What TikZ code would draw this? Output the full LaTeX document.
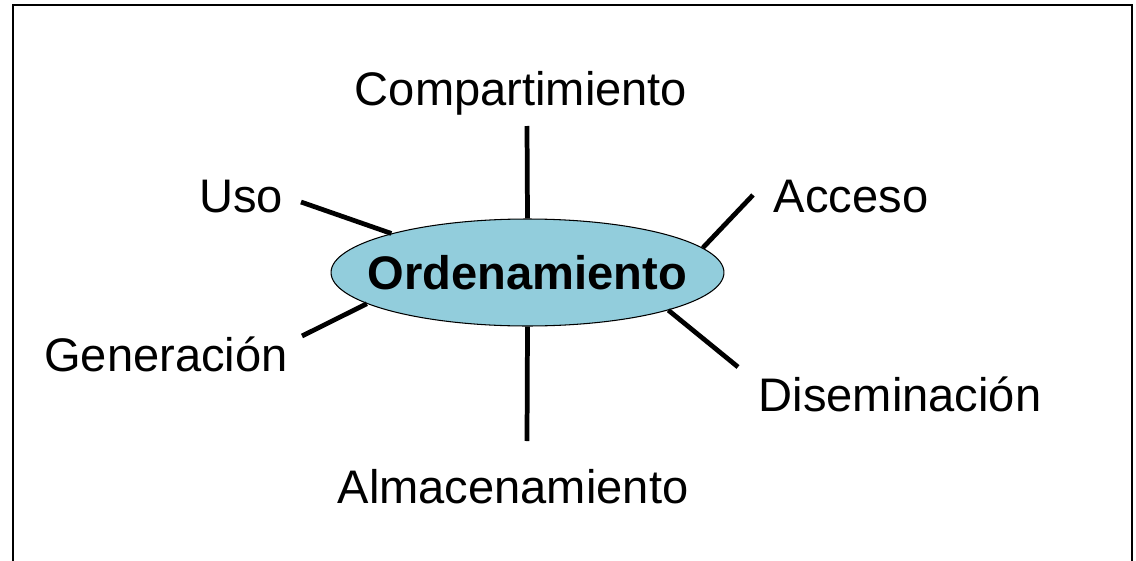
\documentclass[tikz,border=0pt]{standalone}
\usepackage{fontspec}
\setmainfont{Liberation Sans}
\usetikzlibrary{shapes.geometric}
\definecolor{ordfill}{RGB}{146,205,220}

\begin{document}
\begin{tikzpicture}[x=0.02cm,y=-0.02cm,
	lbl/.style={anchor=base,inner sep=0pt,font=\fontsize{26.8}{32}\selectfont},
	spoke/.style={line width=2.7pt}]
	
	\useasboundingbox (0,0) rectangle (1136,561);
	
	\draw[line width=1.1pt] (13,561) -- (13,5) -- (1132,5) -- (1132,561);
	
	\node[ellipse,draw,fill=ordfill,line width=0.6pt,minimum width=7.86cm,minimum height=2.14cm,inner sep=0pt,
		label={[font=\fontsize{26.8}{32}\selectfont\bfseries]center:Ordenamiento}] (ord) at (527.5,272.5) {};
	
	\node[lbl] (comp) at (521,105) {Compartimiento};
	
	\node[lbl] (uso) at (241,212) {Uso};
	
	\node[lbl] (acc) at (851,212) {Acceso};
	
	\node[lbl] (gen) at (166,371) {Generación};
	
	\node[lbl] (dis) at (900,411) {Diseminación};
	
	\node[lbl] (alm) at (513,503) {Almacenamiento};
	
	\coordinate (c1) at (527,126);
	\coordinate (c2) at (301,202);
	\coordinate (c3) at (753,195);
	\coordinate (c4) at (302,336);
	\coordinate (c5) at (738,367);
	\coordinate (c6) at (527,441);
	
	\draw[spoke] (c1) -- (ord.north);
	\draw[spoke] (c2) -- (ord.164);
	\draw[spoke] (c3) -- (ord.8);
	\draw[spoke] (c4) -- (ord.191);
	\draw[spoke] (c5) -- (ord.345);
	\draw[spoke] (c6) -- (ord.south);
	
\end{tikzpicture}
\end{document}
